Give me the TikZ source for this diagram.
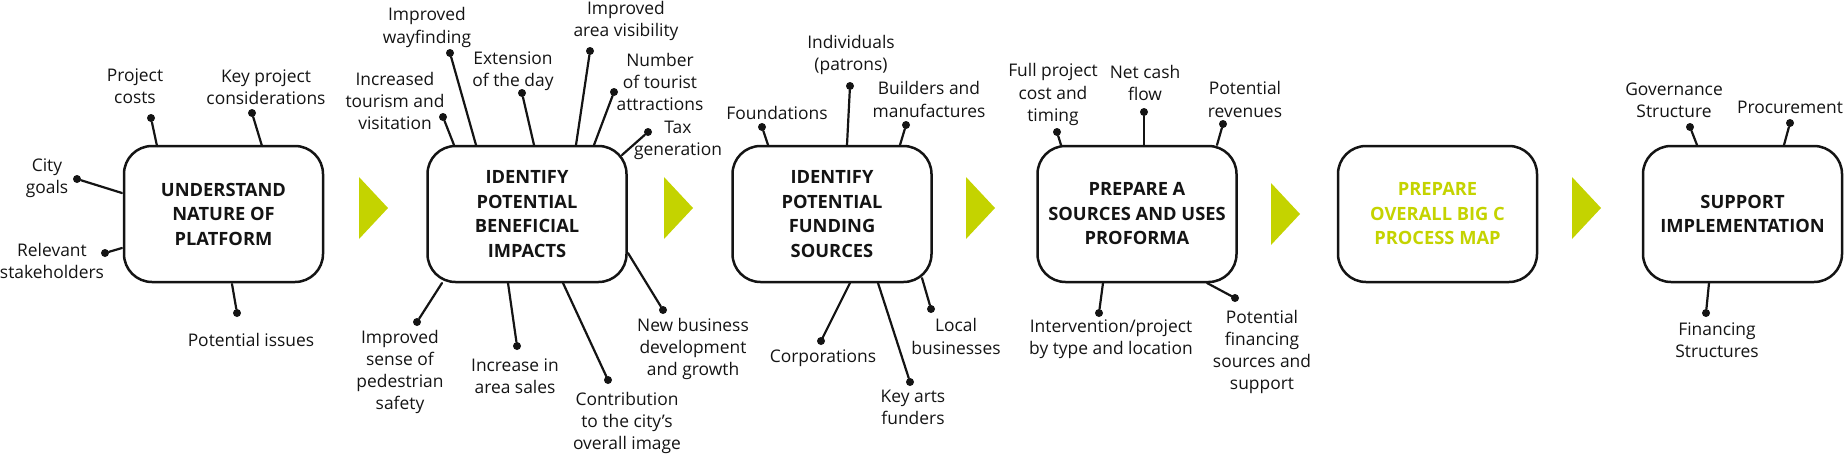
\documentclass[tikz,border=0pt]{standalone}
\usepackage{fontspec}
\setmainfont{Open Sans}
\definecolor{bigc}{RGB}{196,211,0}
\definecolor{ink}{RGB}{20,20,20}
\tikzset{
  stage/.style={draw=ink,line width=2.5pt,rounded corners=28pt,minimum width=199pt,minimum height=136pt,inner sep=0pt,align=center,text=ink,font=\fontsize{18.3}{24.5}\selectfont\bfseries},
  lbl/.style={align=center,text=ink,font=\fontsize{17.4}{22.3}\selectfont},
  pin/.style={circle,fill=ink,inner sep=0pt,minimum size=8pt},
  spoke/.style={draw=ink,line width=2.2pt},
}
\begin{document}
\begin{tikzpicture}[x=1pt,y=-1pt,line cap=round,line join=round]
\useasboundingbox (0,0) rectangle (1844,456);
\node[stage] (understand) at (223.5,214) {UNDERSTAND\\NATURE OF\\PLATFORM};
\node[stage] (impacts) at (527,214) {IDENTIFY\\POTENTIAL\\BENEFICIAL\\IMPACTS};
\node[stage] (funding) at (832,214) {IDENTIFY\\POTENTIAL\\FUNDING\\SOURCES};
\node[stage] (proforma) at (1137,214) {PREPARE A\\SOURCES AND USES\\PROFORMA};
\node[stage,text=bigc] (processmap) at (1437.5,214) {PREPARE\\OVERALL BIG C\\PROCESS MAP};
\node[stage] (support) at (1742.5,214) {SUPPORT\\IMPLEMENTATION};
\foreach \x/\y in {359/177,664/177,966/177,1271/183,1572/177}{
  \fill[bigc] (\x,\y) -- ++(29,31) -- ++(-29,31) -- cycle;
}
\foreach \ax/\ay/\dx/\dy/\lx/\ly/\txt [count=\i] in {
  157/146/151/118/135/86/{Project\\costs},
  262/146/252/113/266/87.5/{Key project\\considerations},
  122/193/77/179/47/178/{City\\goals},
  122/248/105/253/52/261/{Relevant\\stakeholders},
  232/284/237/313/251/340/{Potential issues},
  476/145/450/53/427/27.5/{Improved\\wayfinding},
  454/145/443/117/395/101/{Increased\\tourism and\\visitation},
  534/145/522/93/513/71/{Extension\\of the day},
  576/145/590/51/626/21/{Improved\\area visibility},
  594/145/614/92/660/82/{Number\\of tourist\\attractions},
  622/155/648/132/678/140.5/{Tax\\generation},
  442/283/417/322/400/372/{Improved\\sense of\\pedestrian\\safety},
  508/283/517/346/515/376/{Increase in\\area sales},
  563/283/608/380/627/423/{Contribution\\to the city’s\\overall image},
  628/253/663/310/693/349/{New business\\development\\and growth},
  768/145/762/127/777/113/{Foundations},
  847/145/850/86/851/55/{Individuals\\(patrons)},
  900/145/906/125/929/99.5/{Builders and\\manufactures},
  850/283/821/341/823/358/{Corporations},
  878/283/910/382/913/407.5/{Key arts\\funders},
  922/278/931/309/956/336.5/{Local\\businesses},
  1061/145/1057/132/1053/94.5/{Full project\\cost and\\timing},
  1144/145/1144/112/1145/83/{Net cash\\flow},
  1217/145/1223/124/1245/99.5/{Potential\\revenues},
  1103/283/1099/313/1111/339.5/{Intervention/project\\by type and location},
  1207/283/1235/298/1262/352/{Potential\\financing\\sources and\\support},
  1697/145/1690/127/1674/100.5/{Governance\\Structure},
  1784/145/1790/123/1790/107/{Procurement},
  1709/283/1706/313/1717/340/{Financing\\Structures}}{
  \coordinate (a\i) at (\ax,\ay);
  \node[pin] (d\i) at (\dx,\dy) {};
  \node[lbl] (l\i) at (\lx,\ly) {\txt};
  \draw[spoke] (a\i) -- (d\i);
}
\end{tikzpicture}
\end{document}
